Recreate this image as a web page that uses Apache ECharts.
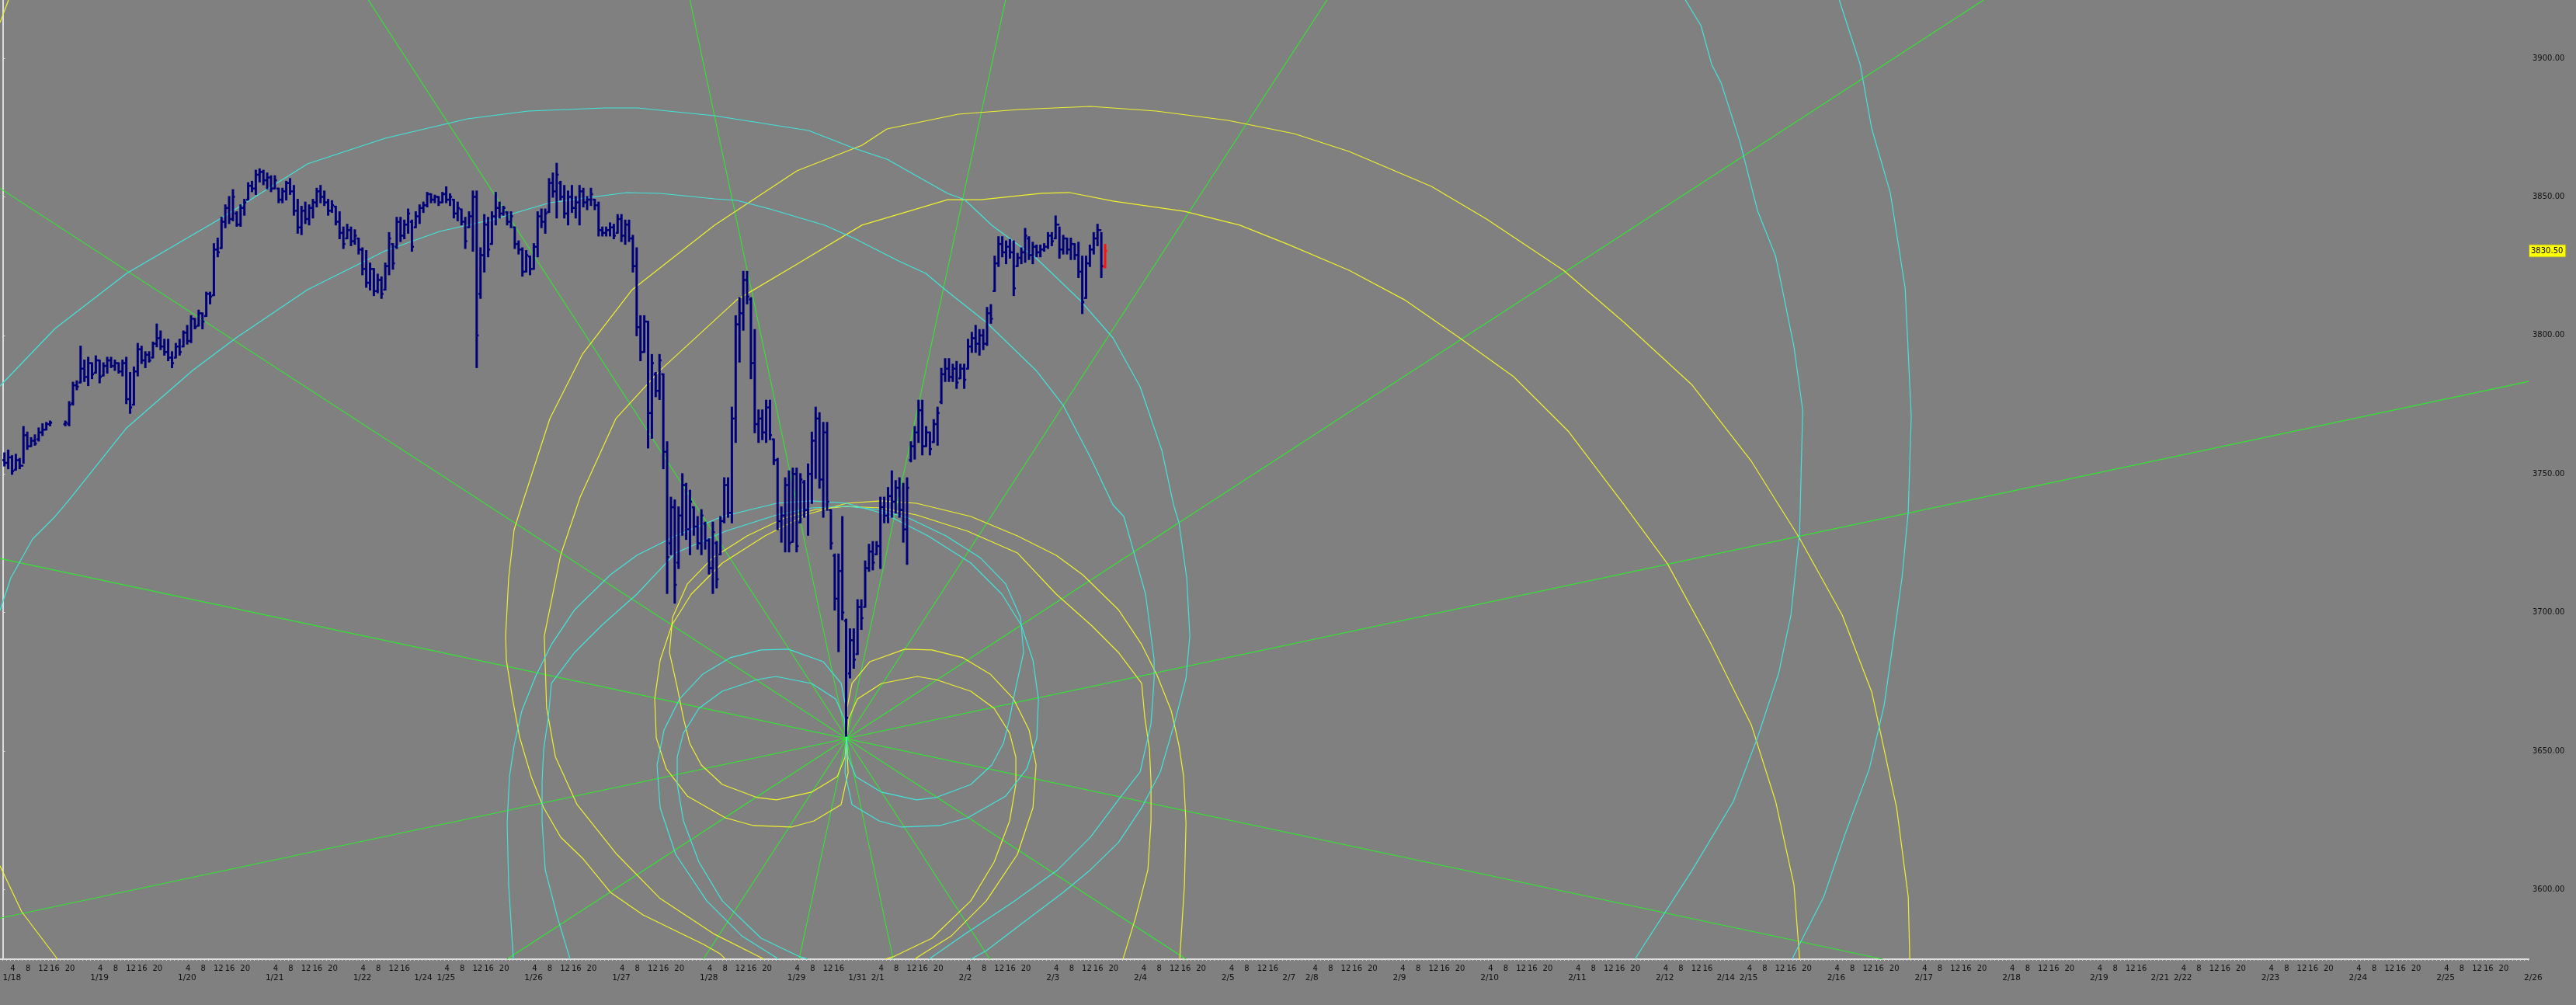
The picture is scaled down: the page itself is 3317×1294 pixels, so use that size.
<!DOCTYPE html>
<html><head><meta charset="utf-8">
<script src="https://cdn.jsdelivr.net/npm/echarts/dist/echarts.min.js"></script>
<style>html,body{margin:0;padding:0;background:#808080;overflow:hidden}#c{width:3317px;height:1294px}</style>
</head><body><div id="c"></div>
<script>
// ---- calendar (trading sessions, hourly slots) ----
const dayLabels = ['1/18','1/19','1/20','1/21','1/22','1/24','1/25','1/26','1/27','1/28','1/29','1/31','2/1','2/2','2/3','2/4','2/5','2/7','2/8','2/9','2/10','2/11','2/12','2/14','2/15','2/16','2/17','2/18','2/19','2/21','2/22','2/23','2/24','2/25','2/26'];
const daySlots  = [23,23,23,23,16,6,23,23,23,23,16,6,23,23,23,23,16,6,23,23,23,23,16,6,23,23,23,23,16,6,23,23,23,23,23];
const hourLabels = ['4','8','12','16','20'];
const hourOffsets = [2.65,6.65,10.65,13.65,17.65];
const priceTicks = [3600,3650,3700,3750,3800,3850,3900];
const lastPrice = 3830.5;

// ---- hourly OHLC bars (slot index = position in array) ----
const barOpen = [3755,3754,3756,3751.5,3755,3753,3764,3760,3762,3762.5,3765,3766,3768,null,null,null,
3768,3768,3775.5,3782,3783,3788,3785,3790,3786.5,3791,3785.5,3789,3791,3789,3790,
3787,3790,3777,3775,3787,3795,3791,3793,3792,3797,3799,3796,3794,3792,3792,
3796,3796,3801,3798,3806,3803.5,3808,3807,3815,3814.5,3831,3831.5,3841,3846,3842,
3844,3840,3846,3849,3854,3853,3858,3859,3856,3857,3853,3853,3849,3852,3855,
3852,3845,3839,3845,3842,3846,3848,3852,3850,3848,3845,3846.5,3841,3837,3835,
3838,3834,3835,3831,3824,3819,3824,3816,3820,3816.5,3825,3833,3832,3841,3836,
3840,3841,3839,3843,3846,3847,3851,3849,3850,3848,3851,3849,3849,3844,3845.5,
3841,3839,3843,3850,3815,3829,3840,3833,3843,3846,3844,3844.5,3841,3839,3833,
3831,3823,3828.5,3824,3832,3843,3841,3844.5,3855,3852,3855,3850,3844,3850,3846,
3848,3852,3848,3849,3849,3847,3838,3837,3838,3839,3837,3842,3836,3840,3835,
3825,3803,3794,3805,3772,3786,3780,3786,3758,3725,3738,3718,3735,3746,3730,
3738,3731,3725,3732,3726,3716,3725,3721,3733,3746,3736,3770,3804,3808,3820,
3813,3790,3768,3770,3765,3774,3762.5,3755,3733,3735,3746,3725.5,3750,3732.5,3747,
3737,3750,3762,3770,3748,3765,3737,3720.5,3705,3715,3697,3678,3690,3685,3702,
3702,3716,3722,3721,3724,3738,3735,3742,3740,3745,3737,3730,3755,3760,3765,
3773,3760,3765,3761.5,3768,3776,3786,3788,3785,3788,3784.5,3788,3788,3796,3799,
3797,3800,3797,3808,3816,3826,3833,3830,3832,3830,3825,3828,3830,3835,3829,
3832,3830,3831,3832,3836,3835,3840,3831,3835,3831,3833,3829,3823,3813.5,3826,3831,3835,3838,3824.75];
const barHigh = [3757.5,3758.5,3756.5,3757,3755.5,3767,3765,3763,3764,3766.5,3768,3768.5,3769,null,null,null,
3769,3776,3783,3783.5,3796,3791,3792,3790,3792.5,3791,3790,3792,3792,3791,3790,
3791,3792,3786.5,3788.5,3797,3796,3794,3794,3797.5,3804,3801.5,3798.5,3798.5,3794,3797,
3798.5,3801.5,3803.5,3807,3806,3809,3808,3815.5,3815.5,3833,3835,3842.5,3847,3850,3852.5,
3844.5,3847,3849,3855,3855.5,3859.5,3860,3859.5,3858.5,3857.5,3857.5,3853,3853,3855.5,3856.5,
3854,3849,3846.5,3848,3847,3849,3853,3854,3852,3849,3848.5,3846.5,3844.5,3839,3840,
3839,3838,3835,3831.5,3830.5,3826,3824,3822,3821,3826,3837,3833,3842.5,3842.5,3841.5,
3845.5,3841.5,3844.5,3847,3848,3851.5,3851,3850.5,3850,3851.5,3853.5,3851,3849,3848,3845.5,
3842.5,3844.5,3852,3852,3831.5,3843.5,3842.5,3844.5,3851.5,3848,3846.5,3844.5,3844.5,3839,3834,
3831.5,3830.5,3828.5,3833,3844.5,3845.5,3845.5,3856.5,3858.5,3862,3855.5,3854,3852,3854,3850,
3854,3853,3850,3853,3849,3848,3839,3839,3840.5,3840,3843.5,3843.5,3841.5,3841.5,3836,
3831.5,3807,3807,3805,3793,3786.5,3793,3786,3761.5,3741.5,3740.5,3738,3750,3746.5,3744,
3738,3734.5,3737,3732.5,3726.5,3732.5,3725.5,3734.5,3748.5,3748.5,3774,3807,3813.5,3823,3823,
3813.5,3802,3773,3773,3776.5,3776.5,3762.5,3755.5,3738,3748.5,3751,3752,3752,3750,3747.5,
3753.5,3765,3774,3772,3768.5,3768.5,3737,3721,3721,3734.5,3697.5,3694,3694,3704.5,3704.5,
3718.5,3724.5,3725.5,3725.5,3741.5,3741.5,3745,3751,3747.5,3748.5,3746.5,3748.5,3761.5,3767,3776.5,
3776.5,3767,3765,3769.5,3774,3788,3791.5,3791.5,3789.5,3790.5,3789.5,3789.5,3798.5,3801,3803.5,
3802,3802,3810,3811,3828.5,3835.5,3835.5,3834,3834.5,3834,3829.5,3831.5,3838.5,3835.5,3833.5,
3832.5,3832.5,3833,3837,3837,3843,3839,3836,3835,3835,3833,3833.5,3828.5,3828.5,3832.5,3837,3840,3837,3832.75];
const barLow = [3753,3752,3750,3751.5,3752,3754,3759,3760,3760.5,3762,3764,3766,3767.5,null,null,null,
3767.5,3767.5,3775,3780.5,3783,3783.5,3782,3784.5,3786.5,3783,3785.5,3786.5,3788.5,3787.5,3786.5,
3785.5,3775.5,3772,3775,3785.5,3790,3788.5,3790.5,3792,3796,3795,3793,3791,3788.5,3792,
3793,3796,3797,3797.5,3802.5,3803.5,3802.5,3807,3811.5,3814.5,3828.5,3831.5,3839,3840.5,3841.5,
3839.5,3839.5,3843.5,3849,3852,3851,3855.5,3854.5,3853,3852,3853,3848,3848,3849,3851,
3843.5,3837,3836.5,3840.5,3840,3842.5,3846.5,3848,3847,3843.5,3844.5,3840,3835,3831.5,3835,
3832.5,3833,3829.5,3822,3817.5,3816.5,3814.5,3815.5,3813.5,3816.5,3822,3824,3831.5,3834,3835,
3837,3830.5,3839,3840.5,3844.5,3846.5,3848,3848,3847,3848,3848,3847,3842.5,3841.5,3840,
3831.5,3839,3830.5,3788.5,3813.5,3823,3828.5,3833,3840,3842.5,3843.5,3840,3839,3831.5,3829.5,
3821.5,3823,3822,3824,3828.5,3839,3837,3844.5,3850,3842.5,3849,3842.5,3840,3844.5,3842.5,
3840,3846.5,3845.5,3847,3845.5,3836,3836,3836,3836,3835,3837,3834,3833,3834,3823,
3800,3791,3794,3759.5,3763,3778,3777,3752,3707,3721,3703.5,3716,3728,3726.5,3721,
3728,3723,3721,3723,3714,3707,3709,3721,3732.5,3734.5,3732.5,3761.5,3790.5,3802,3811.5,
3784.5,3765,3761.5,3762.5,3761.5,3762.5,3753.5,3730,3725.5,3722,3722,3725.5,3722,3732.5,3734.5,
3728,3739.5,3748.5,3745,3734.5,3737,3723,3701,3686,3697.5,3655.5,3676.5,3680,3685,3694,
3702,3715,3715.5,3721,3716,3732.5,3732.5,3734.5,3736,3734.5,3725.5,3717.5,3754.5,3755.5,3761.5,
3757,3760,3757,3761.5,3760.5,3775.5,3783.5,3783.5,3783.5,3781,3784.5,3781,3788,3794,3794,
3793,3795,3796.5,3804.5,3816,3825,3828.5,3826,3828,3814.5,3825,3826,3826.5,3827.5,3826,
3828.5,3828.5,3830.5,3831.5,3832.5,3835,3828,3829.5,3829.5,3827.5,3827.5,3821,3808,3813.5,3825,3829.5,3832.5,3821,3824.5];
const barClose = [3754,3756,3751,3755,3753,3764,3760,3762,3761,3765,3766,3768,3768.5,null,null,null,
3768.5,3775,3782,3781.5,3788,3785,3790,3786,3791,3785,3789,3791,3789,3790,3787,
3790,3777,3774,3787,3795,3791,3793,3791,3797,3799,3796,3794,3792,3790,3796,
3794,3801,3798,3806,3803,3808,3805,3815,3814,3831,3830,3841,3846,3842,3850,
3840,3846,3848,3854,3853,3858,3859,3856,3857,3853,3856,3849,3852,3855,3852,
3845,3839,3845,3842,3846,3848,3852,3850,3848,3845,3847,3841,3837,3833,3838,
3834,3836,3831,3824,3819,3824,3816,3820,3815,3825,3835,3826,3841,3836,3840,
3844,3832,3843,3846,3847,3851,3849,3850,3848,3851,3849,3850,3844,3846,3841,
3834,3843,3850,3800,3829,3840,3831,3843,3846,3844,3846,3841,3843,3833,3831,
3823,3829,3824,3832,3843,3841,3844,3855,3852,3858,3850,3844,3850,3846,3848,
3852,3848,3849,3851,3847,3838,3837,3838,3839,3836,3842,3836,3840,3835,3825,
3803,3794,3805,3772,3790,3780,3791,3758,3720,3738,3710,3735,3746,3730,3740,
3731,3725,3735,3726,3716,3729,3712,3733,3746,3736,3770,3804,3808,3820,3814,
3790,3768,3770,3765,3774,3764,3755,3733,3735,3746,3725,3750,3724,3748,3737,
3750,3762,3770,3748,3765,3740,3725,3705,3715,3700,3662,3690,3683,3702,3698,
3716,3722,3718,3724,3738,3735,3742,3740,3745,3737,3730,3745,3760,3765,3773,
3760,3765,3759,3768,3772,3786,3788,3785,3788,3783,3788,3784,3796,3799,3797,
3800,3797,3808,3806,3826,3833,3830,3832,3830,3817,3828,3830,3836,3829,3832,
3830,3831,3832,3836,3834,3840,3831,3835,3831,3833,3829,3823,3812,3826,3831,3835,3838,3825,3830.5];

// ---- green angle lines through the pivot low (slot, price) ----
const angleLines = [
  [[-0.71,3719.5],[493.6,3574.9]],
  [[-0.71,3589.7],[663.2,3783.4]],
  [[-0.71,3853.1],[310.7,3574.9]],
  [[132.4,3574.9],[520.1,3921.05]],
  [[96.0,3921.05],[259.2,3574.9]],
  [[347.7,3921.05],[183.95,3574.9]],
  [[180.45,3921.05],[233.8,3574.9]],
  [[263.3,3921.05],[209.1,3574.9]]
];

// ---- yellow spirals (slot, price) ----
const yelUpInner = [[221.56,3654.51],[222.17,3661.80],[224.41,3668.81],[230.74,3674.41],[240.12,3676.93],[245.01,3675.81],[254.19,3671.61],[260.30,3665.44],[264.38,3656.48],[266.01,3647.79],[266.01,3637.98],[264.38,3624.80],[260.30,3609.95],[254.19,3595.94],[243.99,3582.48],[233.79,3575.76],[231.75,3574.92]];
const yelUpOuter = [[221.56,3654.51],[221.76,3666.00],[222.99,3674.41],[227.68,3682.26],[236.86,3686.75],[243.99,3686.47],[252.15,3683.67],[259.28,3677.78],[265.40,3668.81],[269.48,3657.60],[271.32,3644.98],[270.50,3629.57],[266.42,3612.75],[258.26,3595.94],[249.09,3583.33],[240.32,3575.76],[239.50,3574.92]];
const yelDownInner = [[221.56,3654.51],[221.15,3647.79],[219.11,3640.78],[212.38,3635.18],[203.21,3632.37],[198.11,3633.21],[188.93,3637.98],[183.43,3644.98],[180.37,3652.83],[178.74,3661.80],[177.10,3673.01],[175.06,3685.62],[175.88,3698.24],[179.75,3710.29],[186.48,3719.82],[195.46,3727.66],[205.25,3734.11],[213.40,3737.19],[221.56,3738.31],[230.74,3737.75],[239.91,3735.23],[253.37,3729.34],[266.42,3721.50],[276.62,3706.64],[285.80,3695.43],[292.93,3685.62],[299.05,3674.41],[299.87,3662.08],[301.09,3650.59],[301.50,3638.82],[301.50,3624.80],[300.68,3607.15],[297.42,3589.77],[294.15,3574.92]];
const yelDownOuter = [[221.56,3654.51],[221.97,3642.18],[220.13,3630.69],[212.99,3624.80],[207.08,3622.56],[197.09,3623.12],[189.75,3625.92],[179.75,3633.77],[174.25,3643.58],[171.60,3654.79],[171.19,3668.81],[172.62,3682.82],[175.68,3695.43],[180.78,3706.64],[188.93,3717.85],[200.15,3727.66],[211.36,3735.51],[221.56,3739.43],[230.74,3740.28],[239.91,3739.43],[254.19,3734.67],[266.42,3727.66],[276.62,3720.66],[283.55,3713.65],[292.93,3701.04],[299.05,3688.43],[303.13,3677.22],[306.80,3664.60],[308.84,3651.99],[310.06,3640.78],[310.68,3623.96],[310.27,3601.54],[309.04,3574.92]];
const yelBigOuter = [[189.75,3574.92],[188.32,3576.88],[184.04,3580.24],[176.90,3585.00],[168.13,3590.89],[159.57,3599.02],[152.23,3611.35],[146.52,3618.92],[142.03,3629.57],[138.77,3640.78],[135.71,3655.07],[133.87,3668.81],[132.24,3682.82],[132.04,3691.51],[132.85,3712.53],[134.28,3729.91],[136.32,3738.87],[143.66,3769.98],[152.23,3793.25],[165.28,3816.51],[186.89,3839.77],[208.51,3859.39],[225.64,3868.64],[232.17,3874.52],[250.92,3879.85],[266.83,3881.53],[285.59,3882.65],[302.92,3880.97],[321.68,3877.61],[339.02,3872.84],[353.49,3866.40],[375.11,3853.79],[389.59,3842.01],[409.78,3823.52],[425.68,3804.74],[443.42,3782.32],[459.13,3754.57],[471.77,3726.82],[482.98,3699.07],[490.73,3671.33],[497.26,3629.57],[500.32,3597.34],[500.72,3574.92]];
const yelBigInner = [[199.9,3574.9],[186.9,3583.9],[172.6,3596.8],[161.0,3613.1],[150.8,3630.7],[145.1,3648.0],[142.8,3665.7],[142.2,3691.5],[146.5,3720.7],[151.6,3741.6],[161.0,3770.0],[172.6,3787.4],[192.8,3812.9],[208.5,3825.7],[225.6,3839.8],[248.1,3849.0],[256.8,3849.0],[272.8,3851.3],[279.9,3851.6],[291.5,3848.5],[310.3,3844.8],[324.8,3839.8],[337.6,3832.8],[353.5,3823.5],[368.0,3812.9],[382.5,3799.1],[396.7,3785.1],[411.2,3765.2],[425.7,3738.9],[437.1,3717.6],[448.1,3689.8],[459.1,3659.5],[465.5,3631.8],[470.3,3601.8],[471.8,3574.9]];
const yelFarTop = [[-0.71,3912.9],[1.53,3921.05]];
const yelFarBottom = [[-0.71,3608.6],[5.0,3592.0],[14.4,3574.9]];

// ---- cyan spirals (slot, price) ----
const cyanUpInner = [[221.56,3654.51],[220.95,3661.80],[218.71,3668.81],[212.38,3674.41],[203.00,3676.93],[198.11,3675.81],[188.93,3671.61],[182.81,3665.44],[178.74,3656.48],[177.10,3647.79],[177.10,3637.98],[178.74,3624.80],[182.81,3609.95],[188.93,3595.94],[199.13,3582.48],[209.32,3575.76],[211.36,3574.92]];
const cyanUpOuter = [[221.56,3654.51],[221.36,3666.00],[220.13,3674.41],[215.44,3682.26],[206.26,3686.75],[199.13,3686.47],[190.97,3683.67],[183.83,3677.78],[177.72,3668.81],[173.64,3657.60],[171.80,3644.98],[172.62,3629.57],[176.70,3612.75],[184.85,3595.94],[194.03,3583.33],[202.80,3575.76],[203.61,3574.92]];
const cyanDownInner = [[221.56,3654.51],[221.97,3647.79],[224.01,3640.78],[230.74,3635.18],[239.91,3632.37],[245.01,3633.21],[254.19,3637.98],[259.69,3644.98],[262.75,3652.83],[264.38,3661.80],[266.01,3673.01],[268.05,3685.62],[267.24,3698.24],[263.36,3710.29],[256.63,3719.82],[247.66,3727.66],[237.87,3734.11],[229.72,3737.19],[221.56,3738.31],[212.38,3737.75],[203.21,3735.23],[189.75,3729.34],[176.70,3721.50],[166.50,3706.64],[157.32,3695.43],[150.19,3685.62],[144.07,3674.41],[143.25,3662.08],[142.03,3650.59],[141.62,3638.82],[141.62,3624.80],[142.44,3607.15],[145.70,3589.77],[148.96,3574.92]];
const cyanDownOuter = [[221.56,3654.51],[221.15,3642.18],[222.99,3630.69],[230.12,3624.80],[236.04,3622.56],[246.03,3623.12],[253.37,3625.92],[263.36,3633.77],[268.87,3643.58],[271.52,3654.79],[271.93,3668.81],[270.50,3682.82],[267.44,3695.43],[262.34,3706.64],[254.19,3717.85],[242.97,3727.66],[231.75,3735.51],[221.56,3739.43],[212.38,3740.28],[203.21,3739.43],[188.93,3734.67],[176.70,3727.66],[166.50,3720.66],[159.57,3713.65],[150.19,3701.04],[144.07,3688.43],[139.99,3677.22],[136.32,3664.60],[134.28,3651.99],[133.06,3640.78],[132.45,3623.96],[132.85,3601.54],[134.08,3574.92]];
const cyanBigOuter = [[254.19,3574.92],[258.26,3578.00],[266.83,3586.97],[278.45,3599.02],[285.59,3607.15],[292.93,3616.96],[299.05,3629.57],[303.94,3642.46],[307.61,3659.85],[310.67,3676.09],[311.69,3691.51],[310.87,3712.53],[308.84,3732.43],[307.41,3738.87],[304.35,3758.49],[298.64,3781.48],[291.50,3799.13],[282.74,3812.87],[271.32,3827.92],[259.69,3839.77],[252.55,3849.02],[248.08,3851.26],[232.17,3863.59],[223.60,3867.52],[211.57,3873.96],[186.89,3879.29],[166.70,3882.09],[158.14,3882.09],[137.95,3880.97],[122.04,3878.17],[100.43,3871.16],[80.04,3861.91],[56.99,3842.01],[32.53,3822.40],[13.76,3802.50],[-0.71,3781.76]];
const cyanBigInner = [[243.17,3574.92],[252.55,3583.89],[265.40,3595.66],[277.02,3607.15],[285.59,3618.92],[292.93,3632.37],[298.64,3642.46],[301.50,3659.85],[302.31,3676.09],[302.31,3683.10],[300.07,3706.64],[297.21,3720.66],[294.36,3734.67],[291.50,3738.87],[285.59,3755.97],[278.45,3774.75],[271.32,3787.36],[258.26,3804.74],[247.46,3816.51],[242.36,3822.40],[235.22,3826.88],[223.60,3835.01],[215.85,3839.77],[201.37,3845.66],[192.81,3848.74],[186.89,3849.30],[172.62,3851.26],[163.85,3851.54],[143.66,3847.90],[129.19,3842.01],[114.71,3837.53],[100.43,3830.52],[80.04,3816.51],[61.28,3799.13],[49.86,3787.36],[32.53,3766.62],[17.23,3740.28],[13.76,3734.67],[7.85,3726.54],[2.14,3712.53],[-0.71,3700.76]];
const cyanFarInner = [[441.8,3921.05],[445.9,3911.8],[448.7,3897.8],[451.2,3891.1],[456.1,3870.0],[460.8,3844.8],[465.5,3828.6],[470.3,3796.0],[472.6,3773.0],[471.8,3729.1],[469.5,3699.0],[466.3,3678.1],[460.8,3655.1],[454.4,3631.8],[443.4,3606.6],[429.2,3576.3],[428.6,3574.9]];
const cyanFarOuter = [[482.2,3921.05],[487.7,3897.8],[490.7,3874.8],[495.6,3851.5],[499.5,3817.1],[501.1,3770.8],[500.3,3736.1],[498.7,3712.8],[496.4,3689.8],[494.0,3666.6],[490.1,3643.6],[483.8,3620.3],[478.1,3597.3],[470.3,3576.3],[469.9,3574.9]];

// ---------------------------------------------------------------
const X_MIN = -0.71, X_MAX = 663.2, Y_MIN = 3574.9, Y_MAX = 3921.05;
const dayStart = []; let acc = 0;
daySlots.forEach(n => { dayStart.push(acc); acc += n; });
const hourPos = [], hourText = {};
dayStart.forEach((s, i) => {
  if (daySlots[i] < 16) return;
  hourOffsets.forEach((o, k) => { if (o < daySlots[i]) { const v = +(s + o).toFixed(2); hourPos.push(v); hourText[v] = hourLabels[k]; } });
});
const dateText = {}; dayStart.forEach((s, i) => dateText[s] = dayLabels[i]);
const slotTicks = []; for (let i = 0; i <= 663; i++) slotTicks.push(i);

const barData = [];
barHigh.forEach((h, i) => { if (h != null) barData.push([i, barOpen[i], h, barLow[i], barClose[i]]); });
const lastIdx = barData.length - 1;
const lastSlot = barData[lastIdx][0];

function curve(data, color, w) {
  return { type: 'line', data: data, showSymbol: false, symbol: 'none', silent: true, animation: false,
    lineStyle: { color: color, width: w || 1.1 }, z: 2 };
}
const YEL = '#f0f02c', CYN = '#40e4dc', GRN = '#2ee82e';
const series = [];
angleLines.forEach(l => series.push(curve(l, GRN, 1.1)));
[yelUpInner, yelUpOuter, yelDownInner, yelDownOuter, yelBigOuter, yelBigInner, yelFarTop, yelFarBottom]
  .forEach(c => series.push(curve(c, YEL, 1.2)));
[cyanUpInner, cyanUpOuter, cyanDownInner, cyanDownOuter, cyanBigOuter, cyanBigInner, cyanFarInner, cyanFarOuter]
  .forEach(c => series.push(curve(c, CYN, 1.2)));
series.push({
  type: 'custom', data: barData, z: 5, silent: true, animation: false,
  encode: { x: 0, y: [2, 3] },
  renderItem: function (params, api) {
    const x = api.value(0) + 0.45;
    const o = api.coord([x, api.value(1)]), hi = api.coord([x, api.value(2)]);
    const lo = api.coord([x, api.value(3)]), c = api.coord([x, api.value(4)]);
    const col = params.dataIndex === lastIdx ? '#ff1010' : '#00007a';
    const t = 2.6;
    return { type: 'group', children: [
      { type: 'line', shape: { x1: hi[0], y1: hi[1] - 1, x2: lo[0], y2: lo[1] + 1 }, style: { stroke: col, lineWidth: 3 } },
      { type: 'line', shape: { x1: o[0] - t, y1: o[1], x2: o[0], y2: o[1] }, style: { stroke: col, lineWidth: 2.5 } },
      { type: 'line', shape: { x1: c[0], y1: c[1], x2: c[0] + t, y2: c[1] }, style: { stroke: col, lineWidth: 2.5 } }
    ] };
  }
});

const chart = echarts.init(document.getElementById('c'), null, { renderer: 'canvas' });
chart.setOption({
  backgroundColor: '#808080',
  animation: false,
  grid: { left: 0, right: 61, top: 0, bottom: 59, containLabel: false },
  xAxis: [{
    type: 'value', min: X_MIN, max: X_MAX, position: 'bottom',
    axisLine: { show: true, onZero: false, lineStyle: { color: '#dcdcdc', width: 2 } },
    axisTick: { show: true, customValues: slotTicks, length: 2, lineStyle: { color: '#dcdcdc' } },
    axisLabel: { customValues: hourPos, formatter: v => hourText[+v.toFixed(2)] || '', color: '#101010',
      fontSize: 10, fontFamily: 'DejaVu Sans', margin: 7 },
    splitLine: { show: false }
  }, {
    type: 'value', min: X_MIN, max: X_MAX, position: 'bottom',
    axisLine: { show: false }, axisTick: { show: false },
    axisLabel: { customValues: dayStart, formatter: v => dateText[v] || '', color: '#101010', align: 'left',
      fontSize: 10.5, fontFamily: 'DejaVu Sans', margin: 19 },
    splitLine: { show: false }
  }],
  yAxis: {
    type: 'value', min: Y_MIN, max: Y_MAX, position: 'right',
    axisLine: { show: true, lineStyle: { color: '#dcdcdc', width: 2 } },
    axisTick: { show: true, customValues: priceTicks, length: 3, lineStyle: { color: '#dcdcdc' } },
    axisLabel: { customValues: priceTicks, formatter: v => v.toFixed(2), color: '#101010', fontSize: 10, fontFamily: 'DejaVu Sans', margin: 5 },
    splitLine: { show: false }
  },
  series: series
});

// last-price tag on the price axis, placed through the chart's own price scale
const tagY = chart.convertToPixel({ gridIndex: 0 }, [lastSlot, lastPrice])[1];
const axisX = chart.convertToPixel({ gridIndex: 0 }, [X_MAX, lastPrice])[0];
chart.setOption({
  graphic: [{
    type: 'text', x: axisX + 1, y: tagY, silent: true, z: 100,
    style: { text: lastPrice.toFixed(2), fill: '#000', font: '10px "DejaVu Sans"', verticalAlign: 'middle',
      backgroundColor: '#ffff00', padding: [3, 3, 2, 2], borderColor: '#9a9a50', borderWidth: 1 }
  }]
});
</script></body></html>
